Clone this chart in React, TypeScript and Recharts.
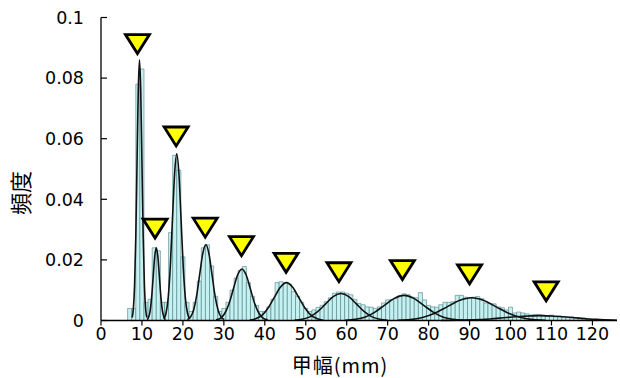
import { ComposedChart, Bar, Line, Scatter, XAxis, YAxis } from 'recharts'

document.body.style.margin = '0'

// 1 mm bins (bin centre in mm) and the observed frequency of each
const BIN_MM = [
  7, 8, 9, 10, 11, 12, 13, 14, 15, 16, 17, 18, 19, 20, 21, 22, 23, 24, 25, 26,
  27, 28, 29, 30, 31, 32, 33, 34, 35, 36, 37, 38, 39, 40, 41, 42, 43, 44, 45, 46,
  47, 48, 49, 50, 51, 52, 53, 54, 55, 56, 57, 58, 59, 60, 61, 62, 63, 64, 65, 66,
  67, 68, 69, 70, 71, 72, 73, 74, 75, 76, 77, 78, 79, 80, 81, 82, 83, 84, 85, 86,
  87, 88, 89, 90, 91, 92, 93, 94, 95, 96, 97, 98, 99, 100, 101, 102, 103, 104, 105, 106,
  107, 108, 109, 110, 111, 112, 113, 114, 115, 116, 117, 118, 119, 120, 121, 122, 123, 124, 125,
]
const BIN_FREQ = [
  0.004, 0.004, 0.078, 0.083, 0.006, 0.007, 0.024, 0.023, 0.006, 0.006,
  0.029, 0.0545, 0.0496, 0.021, 0.006, 0.003, 0.006, 0.013, 0.024, 0.025,
  0.018, 0.008, 0.003, 0.004, 0.006, 0.01, 0.014, 0.0165, 0.0178, 0.0125,
  0.008, 0.005, 0.003, 0.003, 0.0045, 0.007, 0.0125, 0.0128, 0.0125, 0.012,
  0.0095, 0.008, 0.006, 0.004, 0.003, 0.0035, 0.0043, 0.005, 0.0062, 0.0075,
  0.009, 0.0094, 0.0094, 0.009, 0.0085, 0.007, 0.0056, 0.0052, 0.0045, 0.0044,
  0.004, 0.0045, 0.0058, 0.0068, 0.0069, 0.0072, 0.0082, 0.0088, 0.0085, 0.0077,
  0.0075, 0.0092, 0.0068, 0.005, 0.0045, 0.0044, 0.0052, 0.006, 0.006, 0.0062,
  0.0083, 0.0083, 0.0077, 0.0075, 0.0077, 0.0079, 0.0072, 0.0058, 0.0056, 0.0055,
  0.0045, 0.0042, 0.0035, 0.0044, 0.0025, 0.0028, 0.0025, 0.0022, 0.0018, 0.002,
  0.002, 0.0018, 0.0015, 0.0018, 0.0012, 0.0015, 0.0012, 0.001, 0.0012, 0.0008,
  0.0006, 0.0007, 0.0005, 0.0004, 0.0006, 0.0004, 0.0003, 0.0003, 0.0002,
]

// fitted curve of each instar as [mm, frequency]
const CURVE_1 = [
  [7.6, 0.001], [7.9, 0.0038], [8.2, 0.0116], [8.5, 0.0279], [8.8, 0.0522], [9.1, 0.0759], [9.4, 0.086],
  [9.7, 0.0759], [10.0, 0.0522], [10.3, 0.0279], [10.6, 0.0116], [10.9, 0.0038], [11.2, 0.001],
]
const CURVE_2 = [
  [11.25, 0.0003], [11.625, 0.0011], [12.0, 0.0032], [12.375, 0.0078], [12.75, 0.0146], [13.125, 0.0212], [13.5, 0.024],
  [13.875, 0.0212], [14.25, 0.0146], [14.625, 0.0078], [15.0, 0.0032], [15.375, 0.0011], [15.75, 0.0003],
]
const CURVE_3 = [
  [15.35, 0.0006], [15.875, 0.0024], [16.4, 0.0074], [16.925, 0.0179], [17.45, 0.0334], [17.975, 0.0485], [18.5, 0.055],
  [19.025, 0.0485], [19.55, 0.0334], [20.075, 0.0179], [20.6, 0.0074], [21.125, 0.0024], [21.65, 0.0006],
]
const CURVE_4 = [
  [21.1, 0.0003], [21.85, 0.0011], [22.6, 0.0034], [23.35, 0.0081], [24.1, 0.0152], [24.85, 0.0221], [25.6, 0.025],
  [26.35, 0.0221], [27.1, 0.0152], [27.85, 0.0081], [28.6, 0.0034], [29.35, 0.0011], [30.1, 0.0003],
]
const CURVE_5 = [
  [28.1, 0.0002], [29.15, 0.0007], [30.2, 0.0023], [31.25, 0.0055], [32.3, 0.0103], [33.35, 0.015], [34.4, 0.017],
  [35.45, 0.015], [36.5, 0.0103], [37.55, 0.0055], [38.6, 0.0023], [39.65, 0.0007], [40.7, 0.0002],
]
const CURVE_6 = [
  [36.3, 0.0001], [37.8, 0.0006], [39.3, 0.0017], [40.8, 0.0041], [42.3, 0.0076], [43.8, 0.011], [45.3, 0.0125],
  [46.8, 0.011], [48.3, 0.0076], [49.8, 0.0041], [51.3, 0.0017], [52.8, 0.0006], [54.3, 0.0001],
]
const CURVE_7 = [
  [47.2, 0.0001], [49.1, 0.0004], [51.0, 0.0012], [52.9, 0.0029], [54.8, 0.0054], [56.7, 0.0079], [58.6, 0.0089],
  [60.5, 0.0079], [62.4, 0.0054], [64.3, 0.0029], [66.2, 0.0012], [68.1, 0.0004], [70.0, 0.0001],
]
const CURVE_8 = [
  [59.6, 0.0001], [62.0, 0.0004], [64.4, 0.0011], [66.8, 0.0027], [69.2, 0.005], [71.6, 0.0073], [74.0, 0.0083],
  [76.4, 0.0073], [78.8, 0.005], [81.2, 0.0027], [83.6, 0.0011], [86.0, 0.0004], [88.4, 0.0001],
]
const CURVE_9 = [
  [72.5, 0.0001], [75.5, 0.0003], [78.5, 0.001], [81.5, 0.0024], [84.5, 0.0045], [87.5, 0.0066], [90.5, 0.0075],
  [93.5, 0.0066], [96.5, 0.0045], [99.5, 0.0024], [102.5, 0.001], [105.5, 0.0003], [108.5, 0.0001],
]
const CURVE_10 = [
  [83, 0.0], [87, 0.0001], [91, 0.0002], [95, 0.0005], [99, 0.001], [103, 0.0014], [107, 0.0016],
  [111, 0.0014], [115, 0.001], [119, 0.0005], [123, 0.0002], [126, 0.0001],
]
const CURVES = [CURVE_1, CURVE_2, CURVE_3, CURVE_4, CURVE_5, CURVE_6, CURVE_7, CURVE_8, CURVE_9, CURVE_10]

// triangle markers over each peak (tip position)
const PEAK_MM = [8.9, 13.2, 18.35, 25.45, 34.3, 45.2, 58.1, 73.6, 90, 108.7]
const PEAK_TIP = [0.0876, 0.0267, 0.0571, 0.027, 0.0209, 0.0154, 0.0123, 0.013, 0.0116, 0.006]

const X_TICKS = [0, 10, 20, 30, 40, 50, 60, 70, 80, 90, 100, 110, 120]
const Y_TICKS = [0, 0.02, 0.04, 0.06, 0.08, 0.1]
const Y_TICK_LABELS = ['0', '0.02', '0.04', '0.06', '0.08', '0.1']

const histData = BIN_MM.map((x, i) => ({ x, f: BIN_FREQ[i] }))
const curveData = CURVES.map((c) => c.map(([x, y]) => ({ x, y })))
const peakData = PEAK_MM.map((x, i) => ({ x, y: PEAK_TIP[i] }))

const tickFont = { fontSize: 17.5, fill: '#000', fontFamily: 'DejaVu Sans' }

function Triangle(props: any) {
  const { cx, cy } = props
  if (cx == null || cy == null) return null
  const tipY = cy - 1.5
  const pts = `${cx - 12},${tipY - 19} ${cx + 12},${tipY - 19} ${cx},${tipY}`
  return <polygon points={pts} fill="#ffff00" stroke="#000" strokeWidth={2.8} />
}

function YLabel() {
  return (
    <text
      x={19}
      y={193}
      transform="rotate(-90 19 193)"
      textAnchor="middle"
      dominantBaseline="central"
      fontSize={22}
      fontFamily="Noto Sans CJK JP"
      fill="#000"
    >
      頻度
    </text>
  )
}

function XLabel() {
  return (
    <text x={340} y={373} textAnchor="middle" fontSize={20} fontFamily="Noto Sans CJK JP" fill="#000" letterSpacing={1}>
      甲幅(mm)
    </text>
  )
}

export default function App() {
  return (
    <ComposedChart
      width={620}
      height={378}
      data={histData}
      margin={{ top: 17.5, right: 3, bottom: 0, left: 8 }}
    >
      <XAxis
        dataKey="x"
        type="number"
        domain={[0, 126]}
        ticks={X_TICKS}
        interval={0}
        height={57.5}
        tickSize={5}
        tickMargin={2}
        tick={tickFont}
        axisLine={{ stroke: '#000', strokeWidth: 1.3 }}
        tickLine={{ stroke: '#000', strokeWidth: 1.2 }}
        label={<XLabel />}
      />
      {/* hidden twin axis so the bar width comes from the 1 mm bins only */}
      <XAxis xAxisId="bins" dataKey="x" type="number" domain={[0, 126]} hide />
      <YAxis
        type="number"
        domain={[0, 0.1]}
        ticks={Y_TICKS}
        interval={0}
        width={93}
        tickSize={-6}
        tickMargin={23}
        tick={tickFont}
        tickFormatter={(v: number) => Y_TICK_LABELS[Y_TICKS.indexOf(v)] ?? String(v)}
        axisLine={{ stroke: '#000', strokeWidth: 1.3 }}
        tickLine={{ stroke: '#000', strokeWidth: 1.2 }}
        label={<YLabel />}
      />
      <Bar
        xAxisId="bins"
        dataKey="f"
        fill="#c6f1f1"
        stroke="#4d7f86"
        strokeWidth={0.6}
        barSize={4.09}
        isAnimationActive={false}
      />
      {curveData.map((d, i) => (
        <Line
          key={i}
          data={d}
          dataKey="y"
          type="monotone"
          stroke="#111"
          strokeWidth={1.6}
          dot={false}
          activeDot={false}
          isAnimationActive={false}
        />
      ))}
      <Scatter data={peakData} dataKey="y" shape={Triangle} isAnimationActive={false} />
    </ComposedChart>
  )
}
